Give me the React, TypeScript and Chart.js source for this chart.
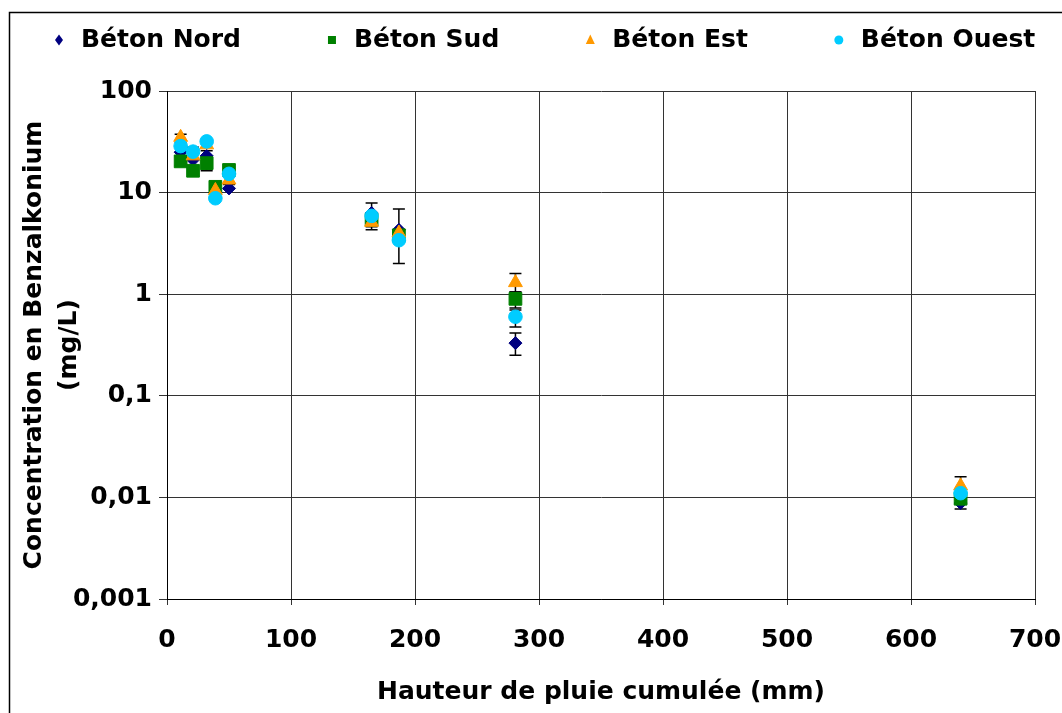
import React, { useEffect, useRef } from "react";
import { Chart, registerables } from "chart.js";

Chart.register(...registerables);

// ---- Data ----
const rainfallMm = [11, 21, 32, 39, 50, 165, 187, 281, 640];
const seriesNames = ["Béton Nord", "Béton Sud", "Béton Est", "Béton Ouest"];
const nordValues = [25, 21, 23, 10, 11, 6.3, 4.3, 0.33, 0.0088];
const sudValues = [20.3, 16.4, 19.5, 11.4, 16.7, 5.4, 3.8, 0.9, 0.0097];
const estValues = [35, 23, 29.5, 10.5, 13.3, 5.1, 4.0, 1.3, 0.013];
const ouestValues = [28.7, 25.3, 31.9, 8.8, 15.3, 5.9, 3.4, 0.6, 0.011];

const nordErrLow = [null, 16.5, 16.4, null, 10.9, 4.3, 2.0, 0.25, 0.0077];
const nordErrHigh = [null, 28, 25.8, null, 12, 7.9, 6.9, 0.415, 0.0098];
const sudErrLow = [18.5, null, null, null, 10.9, 4.6, null, 0.73, null];
const sudErrHigh = [22.5, null, null, null, 16.7, 6.2, null, 1.05, null];
const estErrLow = [31, null, null, null, null, null, null, 1.05, 0.011];
const estErrHigh = [37.5, null, null, null, null, null, null, 1.6, 0.016];
const ouestErrLow = [null, null, null, null, null, null, null, 0.475, null];
const ouestErrHigh = [null, null, null, null, null, null, null, 0.7, null];

const xTickValues = [0, 100, 200, 300, 400, 500, 600, 700];
const yTickValues = [0.001, 0.01, 0.1, 1, 10, 100];
const yTickLabels = ["0,001", "0,01", "0,1", "1", "10", "100"];
const xTitle = "Hauteur de pluie cumulée (mm)";
const yTitle = ["Concentration en Benzalkonium", "(mg/L)"];

const colors = ["#000080", "#008000", "#FF9900", "#00CCFF"];
const pointStyles = ["rectRot", "rect", "triangle", "circle"];
const pointRadii = [6.5, 9, 8, 6.8];

const FONT = "'DejaVu Sans', 'Liberation Sans', sans-serif";

const errorBarPlugin = {
  id: "errorBars",
  beforeDatasetsDraw(chart: any) {
    const { ctx } = chart;
    const xs = chart.scales.x;
    const ys = chart.scales.y;
    const sets = [
      [nordErrLow, nordErrHigh],
      [sudErrLow, sudErrHigh],
      [estErrLow, estErrHigh],
      [ouestErrLow, ouestErrHigh],
    ];
    ctx.save();
    ctx.strokeStyle = "#000";
    ctx.lineWidth = 1.5;
    sets.forEach(([low, high]) => {
      rainfallMm.forEach((xv, i) => {
        const lo = low[i];
        const hi = high[i];
        if (lo == null || hi == null) return;
        const px = xs.getPixelForValue(xv);
        const yT = ys.getPixelForValue(hi);
        const yB = ys.getPixelForValue(lo);
        ctx.beginPath();
        ctx.moveTo(px, yT);
        ctx.lineTo(px, yB);
        ctx.moveTo(px - 6, yT);
        ctx.lineTo(px + 6, yT);
        ctx.moveTo(px - 6, yB);
        ctx.lineTo(px + 6, yB);
        ctx.stroke();
      });
    });
    ctx.restore();
  },
};

function drawMarker(ctx: CanvasRenderingContext2D, style: string, cx: number, cy: number, color: string) {
  ctx.fillStyle = color;
  ctx.beginPath();
  if (style === "rectRot") {
    ctx.moveTo(cx, cy - 5.5);
    ctx.lineTo(cx + 4, cy);
    ctx.lineTo(cx, cy + 5.5);
    ctx.lineTo(cx - 4, cy);
    ctx.closePath();
  } else if (style === "rect") {
    ctx.rect(cx - 4, cy - 4, 8, 8);
  } else if (style === "triangle") {
    ctx.moveTo(cx, cy - 5.5);
    ctx.lineTo(cx + 4.5, cy + 4);
    ctx.lineTo(cx - 4.5, cy + 4);
    ctx.closePath();
  } else {
    ctx.arc(cx, cy, 4.5, 0, Math.PI * 2);
  }
  ctx.fill();
}

const framePlugin = {
  id: "frameAndLegend",
  beforeDraw(chart: any) {
    const { ctx, width, height } = chart;
    ctx.save();
    ctx.fillStyle = "#fff";
    ctx.fillRect(0, 0, width, height);
    ctx.strokeStyle = "#000";
    ctx.lineWidth = 1.5;
    ctx.strokeRect(9.5, 12.5, width + 20, height + 20);
    ctx.restore();
  },
  afterDraw(chart: any) {
    const { ctx } = chart;
    ctx.save();
    ctx.font = `bold 25px ${FONT}`;
    ctx.textBaseline = "middle";
    ctx.textAlign = "left";
    let x = 59;
    const cy = 40;
    seriesNames.forEach((name, i) => {
      drawMarker(ctx, pointStyles[i], x, cy, colors[i]);
      ctx.fillStyle = "#000";
      ctx.fillText(name, x + 22, cy);
      const w = ctx.measureText(name).width;
      x = x + 22 + w + 91;
    });
    ctx.restore();
  },
};

export default function App() {
  const canvasRef = useRef<HTMLCanvasElement | null>(null);

  useEffect(() => {
    if (!canvasRef.current) return;
    const valuesList = [nordValues, sudValues, estValues, ouestValues];
    const datasets = seriesNames.map((name, i) => ({
      label: name,
      data: rainfallMm.map((x, j) => ({ x, y: valuesList[i][j] })),
      showLine: false,
      pointStyle: pointStyles[i] as any,
      pointRadius: pointRadii[i],
      backgroundColor: colors[i],
      borderColor: colors[i],
      borderWidth: 1,
      order: 3 - i,
    }));

    const tickFont = { family: FONT, size: 25, weight: "bold" as const };

    const chart = new Chart(canvasRef.current, {
      type: "scatter",
      data: { datasets },
      options: {
        responsive: false,
        animation: false,
        layout: { padding: { top: 91, left: 0, right: 0, bottom: 0 } },
        plugins: {
          legend: { display: false },
          tooltip: { enabled: false },
        },
        scales: {
          x: {
            type: "linear",
            min: 0,
            max: 700,
            afterBuildTicks: (s: any) => {
              s.ticks = xTickValues.map((v) => ({ value: v }));
            },
            afterFit: (s: any) => {
              s.height = 114;
              s.paddingRight = 27;
              s.paddingLeft = 0;
            },
            ticks: { color: "#000", font: tickFont, padding: 20, maxRotation: 0 },
            grid: { color: "#333", lineWidth: 1, tickLength: 6 },
            border: { color: "#000", width: 1 },
            title: {
              display: true,
              text: xTitle,
              color: "#000",
              font: { ...tickFont, lineHeight: 1.2 },
              padding: { top: 0, bottom: 6 },
            },
          },
          y: {
            type: "logarithmic",
            min: 0.001,
            max: 100,
            afterBuildTicks: (s: any) => {
              s.ticks = yTickValues.map((v) => ({ value: v }));
            },
            afterFit: (s: any) => {
              s.width = 167;
            },
            ticks: {
              color: "#000",
              font: tickFont,
              padding: 7,
              callback: (_v: any, idx: number) => yTickLabels[idx],
            },
            grid: { color: "#333", lineWidth: 1, tickLength: 8 },
            border: { color: "#000", width: 1 },
            title: {
              display: true,
              text: yTitle,
              color: "#000",
              font: { ...tickFont, lineHeight: 1.4 },
              padding: { top: 17, bottom: 0 },
            },
          },
        },
      },
      plugins: [errorBarPlugin, framePlugin],
    });
    return () => chart.destroy();
  }, []);

  return (
    <div style={{ position: "fixed", left: 0, top: 0, width: 1062, height: 713, background: "#fff" }}>
      <canvas ref={canvasRef} width={1062} height={713} style={{ display: "block" }} />
    </div>
  );
}
